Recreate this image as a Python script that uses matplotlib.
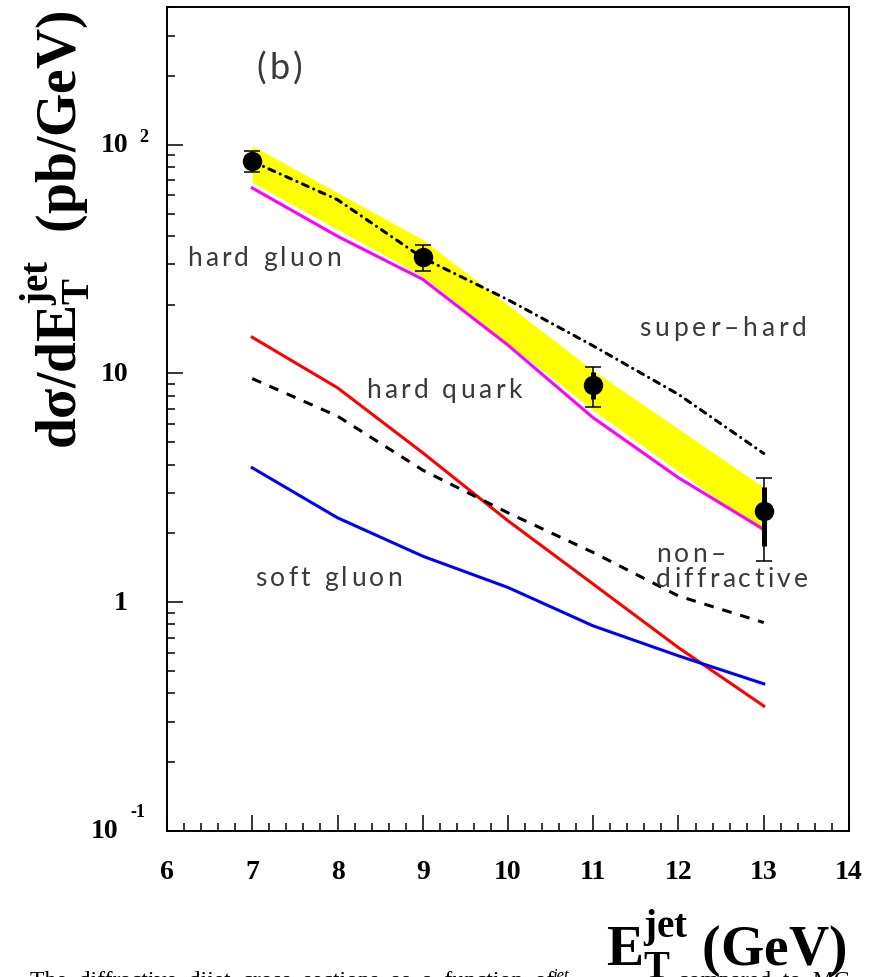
import matplotlib
matplotlib.use("Agg")
import matplotlib.pyplot as plt
import matplotlib.transforms as mtransforms
from matplotlib.font_manager import FontProperties
from matplotlib.ticker import MultipleLocator, LogLocator, NullFormatter

# E_T^jet bins for the MC curves
et = [7, 8, 9, 10, 11, 12, 13]
hard_gluon = [64.7, 39.8, 25.8, 13.3, 6.4, 3.5, 2.08]
hard_quark = [14.4, 8.66, 4.5, 2.27, 1.20, 0.633, 0.352]
soft_gluon = [3.87, 2.34, 1.59, 1.16, 0.788, 0.583, 0.44]
non_diffractive = [9.5, 6.51, 3.78, 2.46, 1.65, 1.065, 0.815]
super_hard = [84.5, 57.5, 32.0, 21.0, 13.2, 8.1, 4.47]

# measured points
data_et = [7, 9, 11, 13]
data_xs = [84.6, 32.3, 8.95, 2.50]
tot_hi = [93.5, 36.3, 10.66, 3.48]
tot_lo = [75.7, 28.0, 7.15, 1.51]
stat_hi = [88.0, 34.0, 10.2, 3.2]
stat_lo = [81.0, 30.5, 7.7, 1.76]

# systematic (energy scale) band
band_et = [7, 9, 11, 13]
band_hi = [99.0, 38.5, 10.3, 3.18]
band_lo = [68.4, 26.6, 6.9, 2.02]

x_ticks = [6, 7, 8, 9, 10, 11, 12, 13, 14]

DPI = 100
plt.rcParams["mathtext.fontset"] = "custom"
plt.rcParams["mathtext.rm"] = "Liberation Serif:bold"
plt.rcParams["mathtext.bf"] = "Liberation Serif:bold"
plt.rcParams["mathtext.it"] = "Liberation Serif:bold"
plt.rcParams["lines.scale_dashes"] = False

fig = plt.figure(figsize=(8.7, 9.78), dpi=DPI)
ax = fig.add_axes([167 / 870, 1 - 832 / 978, (849 - 167) / 870, (832 - 8) / 978])

ax.fill_between(band_et, band_lo, band_hi, color="#ffff00", lw=0, zorder=1)

ax.plot(et, hard_gluon, color="#ff00ff", lw=2.2, zorder=2)
ax.plot(et, hard_quark, color="#ff0000", lw=2.2, zorder=2)
ax.plot(et, soft_gluon, color="#0000ff", lw=2.2, zorder=2)
ax.plot(et, non_diffractive, color="black", lw=2.2, ls=(0, (7, 6.5)), zorder=2)
ax.plot(et, super_hard, color="black", lw=2.2, ls=(0, (4.5, 4.3, 0.1, 4.3)),
        dash_capstyle="round", zorder=2)

yerr_tot = [[v - l for v, l in zip(data_xs, tot_lo)], [h - v for v, h in zip(data_xs, tot_hi)]]
yerr_stat = [[v - l for v, l in zip(data_xs, stat_lo)], [h - v for v, h in zip(data_xs, stat_hi)]]
ax.errorbar(data_et, data_xs, yerr=yerr_tot, fmt="none", ecolor="black",
            elinewidth=1.1, capsize=5.8, capthick=1.1, zorder=3)
ax.errorbar(data_et, data_xs, yerr=yerr_stat, fmt="none", ecolor="black",
            elinewidth=3.6, capsize=0, zorder=3)
ax.plot(data_et, data_xs, "o", color="black", ms=13, zorder=4)

ax.set_yscale("log")
ax.set_xlim(6, 14)
ax.set_ylim(0.1, 400)

for s in ax.spines.values():
    s.set_linewidth(1.4)
ax.xaxis.set_major_locator(MultipleLocator(1))
ax.xaxis.set_minor_locator(MultipleLocator(0.2))
ax.yaxis.set_major_locator(LogLocator(base=10, numticks=10))
ax.yaxis.set_minor_locator(LogLocator(base=10, subs=range(2, 10), numticks=20))
ax.yaxis.set_major_formatter(NullFormatter())
ax.yaxis.set_minor_formatter(NullFormatter())
ax.tick_params(which="both", direction="in", top=False, right=False, width=1.1)
ax.tick_params(which="major", length=11.5)
ax.tick_params(which="minor", length=5.8)
ax.set_xticks(x_ticks)
ax.set_xticklabels([str(t) for t in x_ticks], fontfamily="Liberation Serif",
                   fontweight="bold", fontsize=20)
ax.tick_params(axis="x", pad=20)

# y tick labels in "10 ^n" style
tick_font = dict(fontfamily="Liberation Serif", fontweight="bold", color="black")
yt = mtransforms.blended_transform_factory(fig.transFigure, ax.transData)
ax.text(128 / 870, 100, "10", transform=yt, ha="right", va="center", fontsize=20, **tick_font)
ax.text(139 / 870, 100, "2", transform=yt, ha="left", va="bottom", fontsize=13, **tick_font)
ax.text(128 / 870, 10, "10", transform=yt, ha="right", va="center", fontsize=20, **tick_font)
ax.text(128 / 870, 1, "1", transform=yt, ha="right", va="center", fontsize=20, **tick_font)
ax.text(118 / 870, 0.1, "10", transform=yt, ha="right", va="center", fontsize=20, **tick_font)
ax.text(130 / 870, 0.112, "-1", transform=yt, ha="left", va="bottom", fontsize=13, **tick_font)

# axis titles
title_font = dict(fontfamily="Liberation Serif", fontweight="bold", fontsize=40)
fig.text(55 / 870, 1 - 230 / 978, r"d$\mathbf{\sigma}$/dE$_{\rm T}^{\rm jet}$  (pb/GeV)",
         rotation=90, ha="center", va="center", **title_font)
fig.text(846 / 870, (978 - 966) / 978, r"E$_{\rm T}^{\rm jet}$ (GeV)",
         ha="right", va="baseline", **title_font)

# caption running below the figure
cap_font = dict(fontfamily="Liberation Serif", fontsize=17)
fig.text(30 / 870, -0.009, "The  diffractive  dijet  cross  sections  as  a  function  of",
         ha="left", va="baseline", **cap_font)
fig.text(553 / 870, -0.002, "jet", ha="left", va="baseline", style="italic",
         fontfamily="Liberation Serif", fontsize=12)
fig.text(850 / 870, -0.009, "compared  to  MC", ha="right", va="baseline", **cap_font)

# curve labels, drawn letter by letter for the wide spacing
note_font = FontProperties(family="Lato", weight="normal", size=19)
renderer = fig.canvas.get_renderer()


def spaced(x, y, s, prop=note_font, track=2.4, space=5.2):
    off = 0.0
    for ch in s:
        if ch == " ":
            off += space + track
            continue
        ax.annotate(ch, (x, y), xytext=(off, 0), textcoords="offset points",
                    fontproperties=prop, color="#3a3a3a", ha="left", va="baseline")
        w, _, _ = renderer.get_text_width_height_descent(ch, prop, ismath=False)
        off += w * 72 / DPI + track


spaced(7.05, 195, "(b)", prop=FontProperties(family="Lato", weight="normal", size=26))
spaced(6.231, 29.7, "hard gluon")
spaced(8.334, 7.9, "hard quark")
spaced(11.54, 14.8, "super–hard", track=2.8)
spaced(11.736, 1.52, "non–")
spaced(11.736, 1.18, "diffractive")
spaced(7.032, 1.19, "soft gluon")

fig.savefig("out.png", dpi=DPI)
